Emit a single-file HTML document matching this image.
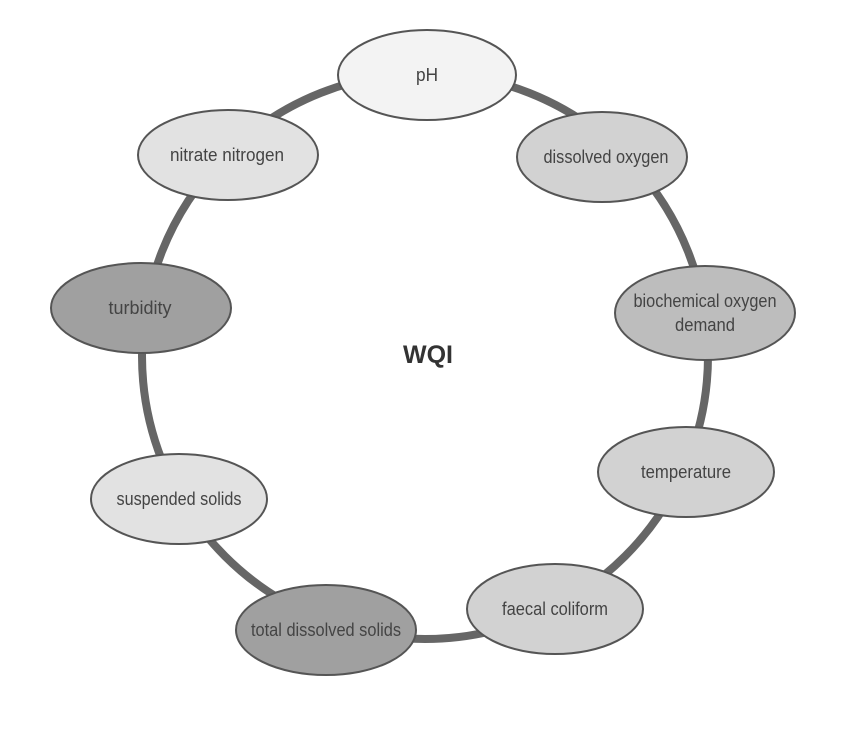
<!DOCTYPE html>
<html><head><meta charset="utf-8"><style>
html,body{margin:0;padding:0;background:#fff;}
svg text{font-family:"Liberation Sans",sans-serif;fill:#444;font-size:18px;text-anchor:middle;}
</style></head><body>
<svg width="856" height="736" viewBox="0 0 856 736" xmlns="http://www.w3.org/2000/svg">
<circle cx="425" cy="356" r="283" fill="none" stroke="#666" stroke-width="8"/>
<g stroke="#555" stroke-width="2">
<ellipse cx="427" cy="75" rx="89" ry="45" fill="#f3f3f3"/>
<ellipse cx="602" cy="157" rx="85" ry="45" fill="#d2d2d2"/>
<ellipse cx="228" cy="155" rx="90" ry="45" fill="#e2e2e2"/>
<ellipse cx="141" cy="308" rx="90" ry="45" fill="#a0a0a0"/>
<ellipse cx="705" cy="313" rx="90" ry="47" fill="#bdbdbd"/>
<ellipse cx="686" cy="472" rx="88" ry="45" fill="#d2d2d2"/>
<ellipse cx="179" cy="499" rx="88" ry="45" fill="#e2e2e2"/>
<ellipse cx="326" cy="630" rx="90" ry="45" fill="#a0a0a0"/>
<ellipse cx="555" cy="609" rx="88" ry="45" fill="#d2d2d2"/>
</g>
<text x="427" y="81" textLength="22" lengthAdjust="spacingAndGlyphs">pH</text>
<text x="606" y="163" textLength="125" lengthAdjust="spacingAndGlyphs">dissolved oxygen</text>
<text x="227" y="161" textLength="114" lengthAdjust="spacingAndGlyphs">nitrate nitrogen</text>
<text x="140" y="314" textLength="63" lengthAdjust="spacingAndGlyphs">turbidity</text>
<text x="705" y="307" textLength="143" lengthAdjust="spacingAndGlyphs">biochemical oxygen</text>
<text x="705" y="331" textLength="60" lengthAdjust="spacingAndGlyphs">demand</text>
<text x="686" y="478" textLength="90" lengthAdjust="spacingAndGlyphs">temperature</text>
<text x="179" y="505" textLength="125" lengthAdjust="spacingAndGlyphs">suspended solids</text>
<text x="326" y="636" textLength="150" lengthAdjust="spacingAndGlyphs">total dissolved solids</text>
<text x="555" y="615" textLength="106" lengthAdjust="spacingAndGlyphs">faecal coliform</text>
<text x="428" y="363" style="font-weight:bold;font-size:25px;fill:#333">WQI</text>
</svg>
</body></html>
